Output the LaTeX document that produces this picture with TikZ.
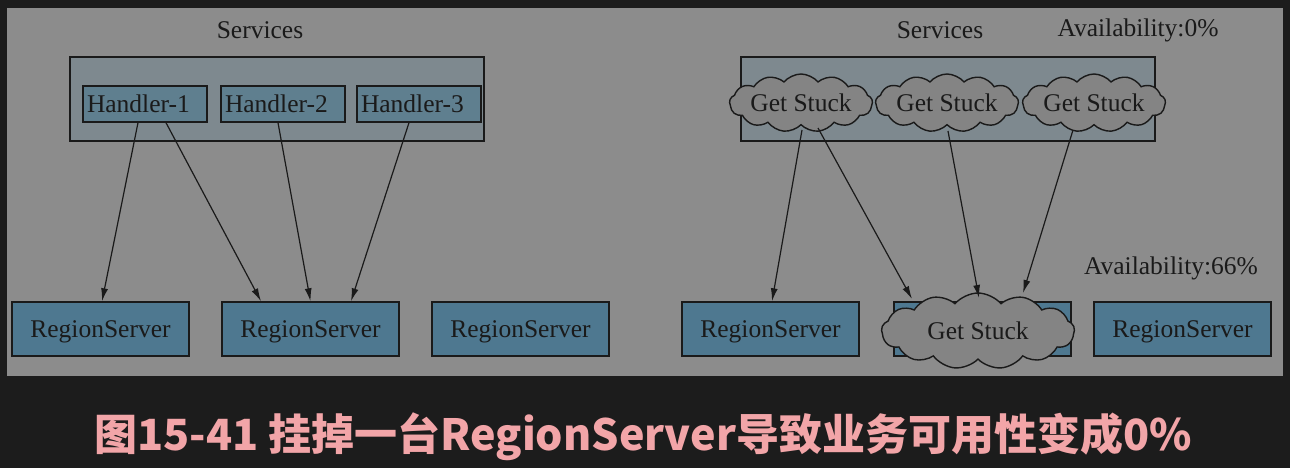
\documentclass[tikz,border=0pt]{standalone}
\usepackage{fontspec}
\setmainfont{Liberation Serif}
\newfontfamily\cjk{Noto Sans CJK SC}
\usetikzlibrary{shapes.symbols,arrows.meta}
\definecolor{bgdark}{HTML}{1C1C1C}
\definecolor{panel}{HTML}{8C8C8C}
\definecolor{svcfill}{HTML}{7E898F}
\definecolor{hfill}{HTML}{5F7F8F}
\definecolor{rsfill}{HTML}{4E7890}
\definecolor{cloudfill}{HTML}{848484}
\definecolor{ink}{HTML}{1A1A1A}
\definecolor{caption}{HTML}{F2A5A8}
\begin{document}
\begin{tikzpicture}[x=1pt,y=-1pt,
  every node/.style={font=\fontsize{25.5}{30}\selectfont, text=ink},
  svcbox/.style={draw=ink, line width=1.4pt, fill=svcfill, minimum width=414pt, minimum height=84pt, inner sep=0pt},
  handler/.style={draw=ink, line width=1.4pt, fill=hfill, text width=116pt, align=left, inner xsep=4pt, inner ysep=0pt, minimum height=36pt},
  rsbox/.style={draw=ink, line width=1.4pt, fill=rsfill, minimum width=177pt, minimum height=54pt, inner sep=0pt, text depth=0pt},
  stuck/.style={cloud, cloud puffs=13, cloud puff arc=100, cloud ignores aspect, draw=ink, line width=1.4pt, fill=cloudfill, inner sep=0pt},
  conn/.style={draw=ink, line width=1.2pt, -{Latex[length=13pt,width=7pt]}},
  lbl/.style={inner sep=0pt}
]
\useasboundingbox (0,0) rectangle (1290,468);
\fill[bgdark] (0,0) rectangle (1290,468);
\fill[panel] (7,8) rectangle (1283,376);

% left part
\node[lbl] (svcL) at (260,30) {Services};
\node[svcbox] (boxL) at (277,99) {};
\node[handler] (h1) at (145,104) {Handler-1};
\node[handler] (h2) at (283,104) {Handler-2};
\node[handler] (h3) at (419,104) {Handler-3};
\node[rsbox] (rs1) at (100.5,329) {RegionServer};
\node[rsbox] (rs2) at (310.5,329) {RegionServer};
\node[rsbox] (rs3) at (520.5,329) {RegionServer};

\draw[conn] ([xshift=-7pt]h1.south) -- ([xshift=1.5pt]rs1.north);
\draw[conn] ([xshift=21pt]h1.south) -- ([xshift=-49.5pt]rs2.north);
\draw[conn] ([xshift=-5pt]h2.south) -- ([xshift=0pt]rs2.north);
\draw[conn] ([xshift=-10pt]h3.south) -- ([xshift=40.5pt]rs2.north);

% right part
\node[lbl] (svcR) at (940,30) {Services};
\node[lbl] (avail0) at (1138,30) {Availability:0\%};
\node[svcbox] (boxR) at (948,99) {};
\node[stuck, minimum width=143pt, minimum height=58pt] (c1) at (801,103) {Get Stuck};
\node[stuck, minimum width=143pt, minimum height=58pt] (c2) at (947,103) {Get Stuck};
\node[stuck, minimum width=143pt, minimum height=58pt] (c3) at (1094,103) {Get Stuck};
\node[lbl] (avail66) at (1171,268) {Availability:66\%};
\node[rsbox] (rs4) at (770.5,329) {RegionServer};
\node[rsbox] (rs5) at (982.5,329) {};
\node[rsbox] (rs6) at (1182.5,329) {RegionServer};
\node[stuck, minimum width=193pt, minimum height=76pt] (bc) at (978,331) {Get Stuck};

\draw[conn] ([shift={(1,27)}]c1.center) -- ([xshift=1.5pt]rs4.north);
\draw[conn] ([shift={(17,25)}]c1.center) -- ([shift={(-66,-32)}]bc.center);
\draw[conn] ([shift={(1,28)}]c2.center) -- ([shift={(1,-33)}]bc.center);
\draw[conn] ([shift={(-21,27)}]c3.center) -- ([shift={(45,-38)}]bc.center);

% caption
\node[inner sep=0pt, text=caption, font=\cjk\bfseries\fontsize{43}{48}\selectfont] (cap) at (643,437) {图15-41 挂掉一台RegionServer导致业务可用性变成0\%};
\end{tikzpicture}
\end{document}
